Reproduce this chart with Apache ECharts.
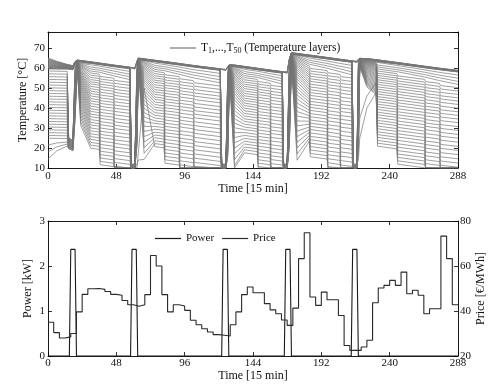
<!DOCTYPE html>
<html lang="en">
<head>
<meta charset="UTF-8">
<title>Tank layers, power and price</title>
<script src="https://cdn.jsdelivr.net/npm/echarts@6/dist/echarts.min.js"></script>
<style>html,body{margin:0;padding:0;background:#fff}</style>
</head>
<body>
<div id="container" style="width:491px;height:385px"></div>
<script type="text/javascript">
// layer temperatures [°C], T1 (top) ... T50 (bottom), read at key times [15 min]
var times0 = [0, 6, 13.5, 14.5, 17.5, 19, 20.5];
var temps0 = [
  [65,64.7,64.4,64.1,63.8,63.5,63.2,62.9,62.6,62.3, 62,61.7,61.4,61.2,61,60.8,60.6,60.4,60.2,60, 59.8,59.5,58.5,57.1,55.7,54.3,52.9,51.5,50.1,48.7, 47.3,45.9,44.5,43.1,41.7,40.3,38.9,37.5,36.1,34.7, 33.3,31.9,30.5,29.1,27.7,26.3,24.9,21.5,18,14.5],
  [63.4,63.2,63,62.8,62.6,62.4,62.2,62,61.8,61.6, 61.4,61.2,61,60.8,60.6,60.4,60.3,60.1,59.9,59.8, 59.6,59.5,58.4,57,55.6,54.2,52.8,51.4,50,48.6, 47.2,45.8,44.4,43,41.6,40.2,38.8,37.4,36,34.6, 33.2,31.8,30.4,29,27.6,26.2,24.8,22.5,20.5,18.5],
  [61.8,61.7,61.6,61.5,61.4,61.2,61.1,61,60.9,60.8, 60.6,60.5,60.4,60.3,60.2,60.1,60,59.9,59.8,59.7, 59.6,59.4,58.3,56.9,55.5,54.1,52.7,51.3,49.9,48.5, 47.1,45.7,44.3,42.9,41.5,40.1,38.7,37.3,35.9,34.5, 33.1,31.7,30.3,28.9,27.5,26.1,24.7,23,22,21],
  [61.7,61.6,61.5,61.4,61.3,61.1,61,60.9,60.8,60.7, 60.5,60.4,60.3,60.2,60.1,60,59.9,59.8,59.7,59.6, 59.5,59.3,25,24.8,24.6,24.4,24.2,24,23.8,23.6, 23.4,23.2,23,22.8,22.6,22.4,22.2,22,21.8,21.6, 21.4,21.2,21,20.8,20.6,20.4,20.2,20,19.8,19.6],
  [61.2,61.1,61,60.9,60.8,60.7,60.6,60.5,60.4,60.3, 60.2,60.1,60,59.9,59.8,59.7,59.6,59.5,59.4,59.3, 59.2,59.1,24,23.8,23.6,23.4,23.2,23,22.8,22.6, 22.4,22.2,22,21.8,21.6,21.4,21.2,21,20.8,20.6, 20.4,20.2,20,19.8,19.6,19.4,19.2,19,18.8,18.6],
  [63.3,63.2,63.1,63,62.9,62.9,62.8,62.7,62.7,62.6, 62.5,62.5,62.4,62.4,62.3,62.3,62.2,62.2,62.1,62.1, 62,62,61,60,59,58,57,56,55,54, 53,52,51,50,49,48,47,46,45,44, 43,42,41,40,39,38,37,36,35,34],
  [64,64,63.9,63.9,63.8,63.8,63.7,63.7,63.6,63.6, 63.5,63.5,63.5,63.4,63.4,63.4,63.3,63.3,63.3,63.2, 63.2,63.2,63.1,63,62.9,62.8,62.7,62.6,62.5,62.4, 62.3,62.2,62.1,62,61.9,61.8,61.7,61.6,61.5,61.4, 61.3,61.2,61.1,61,60.9,60.8,60.7,60.6,60.5,60.4]
];
var times1 = [23, 30, 36, 36.7, 46, 46.7, 57.5, 58.5, 61, 62.5, 63.5];
var temps1 = [
  [63.8,63.7,63.7,63.6,63.6,63.5,63.5,63.4,63.4,63.3, 63.3,63.2,63.2,63.1,62.9,62.6,62.3,62,61.6,61.2, 60.8,60.4,59.9,59.4,58.9,58.3,57.7,57.1,56.4,55.7, 55,54.2,53.4,52.5,51.6,50.6,49.6,48.5,47.4,46.2, 45,43.7,42.4,41,39.5,38,36.4,34.7,33,31.2],
  [63.1,63.1,63,63,62.9,62.9,62.8,62.8,62.7,62.7,62.6,62.6,62.5,62.5,62.4,62.3, 61.6,60.5,59.5,58.5,57.5,56.4,55.3,54.2,53.1,52, 50.8,49.6,48.4,47.2,46,44.7,43.5,42.2,40.9,39.6, 38.3,36.9,35.6,34.2,32.8,31.5,30,28.6,27.1,25.7, 24.3,22.8,21.4,19.9],
  [62.5,62.5,62.4,62.4,62.3,62.3,62.2,62.2,62.1,62.1,62,62,61.9,61.9,61.8,61.7, 61,59.9,58.9,57.9,56.9,55.8,54.7,53.6,52.5,51.4, 50.2,49,47.8,46.6,45.4,44.1,42.9,41.6,40.3,39, 37.7,36.3,35,33.6,32.2,30.9,29.4,28,26.5,25.1, 23.7,22.2,20.8,19.3],
  [62.4,62.4,62.3,62.3,62.2,62.2,62.1,62.1,62,62,61.9,61.9,61.8,61.8,61.7,61.6, 60.6,59.4,58.2,57,55.8,54.5,53.2,51.9,50.6,49.3, 47.9,46.5,45.1,43.7,42.3,40.8,39.3,37.8,36.3,34.8, 33.2,31.6,30,28.4,26.8,25.2,23.5,21.8,20.1,18.4, 16.7,15,13.3,11.6],
  [61.5,61.5,61.4,61.4,61.3,61.3,61.2,61.2,61.1,61.1,61,61,60.9,60.9,60.8,60.7, 59.7,58.5,57.3,56.1,54.9,53.6,52.3,51,49.7,48.4, 47,45.6,44.2,42.8,41.4,39.9,38.4,36.9,35.4,33.9, 32.3,30.7,29.1,27.5,25.9,24.3,22.6,20.9,19.2,17.5, 15.8,14.1,12.4,10.7],
  [61.4,61.4,61.3,61.3,61.2,61.2,61.1,61.1,61,61,60.9,60.9,60.8,60.8,60.7,60.6, 59.3,57.9,56.6,55.2,53.8,52.3,50.8,49.3,47.8,46.3, 44.7,43.1,41.5,39.9,38.3,36.6,34.8,33.1,31.4,29.7, 27.8,26,24.1,22.3,20.5,18.6,16.7,14.7,12.8,10.8, 10,10,10,10],
  [60.4,60.4,60.3,60.3,60.2,60.2,60.1,60.1,60,60,59.9,59.9,59.8,59.8,59.7,59.6, 58.3,56.9,55.6,54.2,52.8,51.3,49.8,48.3,46.8,45.3, 43.7,42.1,40.5,38.9,37.3,35.6,33.8,32.1,30.4,28.7, 26.8,25,23.1,21.3,19.5,17.6,15.7,13.7,11.8,10, 10,10,10,10],
  [60.3,60.2,60.1,60,59.8,59.7,12,11.8,11.6,11.4, 11.2,11,10.8,10.6,10.4,10.2,10,10,10,10, 10,10,10,10,10,10,10,10,10,10, 10,10,10,10,10,10,10,10,10,10, 10,10,10,10,10,10,10,10,10,10],
  [60.1,60,59.9,59.8,59.6,59.5,12,11.8,11.6,11.4, 11.2,11,10.8,10.6,10.4,10.2,10,10,10,10, 10,10,10,10,10,10,10,10,10,10, 10,10,10,10,10,10,10,10,10,10, 10,10,10,10,10,10,10,10,10,10],
  [63.5,63.4,63.3,63.2,63.1,63,62,61,60,59, 58,57,56,55,54,53,52,51,50,49, 48,47,46,45,44,43,42,41,40,39, 38,37,36,35,34,33,32,31,30,29, 28,27,26,25,24,23,22,21,12,10],
  [65,65,64.9,64.9,64.8,64.8,64.7,64.7,64.6,64.6, 64.5,64.5,64.4,64.4,64.3,64.3,64.2,64.2,64.1,64.1, 64,64,63.9,63.9,63.8,63.8,63.7,63.7,63.6,63.6, 63.5,63.5,63.4,63.3,63.2,63.1,63,62.9,62.8,62.7, 62.6,62.4,62.2,62,61.7,61.4,61,60.5,14,10]
];
var times2 = [67.5, 75, 81.5, 82.2, 92, 92.7, 102, 102.8, 121, 122, 125, 126.3, 127.5];
var temps2 = [
  [64.6,64.6,64.5,64.5,64.4,64.4,64.3,64.3,64.2,64.2,64.1,64.1,64,64,63.9,63.8, 63.8,63.4,62.9,62.4,61.8,61.2,60.5,59.8,59,58.2, 57.3,56.3,55.3,54.2,53,51.7,50.3,48.8,47.2,45.5, 43.7,41.8,39.8,37.7,35.5,33.2,30.8,28.3,25.7,23, 20.2,17.3,14.3,50],
  [63.9,63.9,63.8,63.8,63.7,63.7,63.6,63.6,63.5,63.5,63.4,63.4,63.3,63.3,63.2,63.1, 62.4,61.3,60.3,59.3,58.3,57.2,56.1,55,53.9,52.8, 51.6,50.4,49.2,48,46.8,45.5,44.3,43,41.7,40.4, 39.1,37.7,36.4,35,33.6,32.3,30.8,29.4,27.9,26.5, 25.1,23.6,22.2,20.7],
  [63.3,63.3,63.2,63.2,63.1,63.1,63,63,62.9,62.9,62.8,62.8,62.7,62.7,62.6,62.5, 61.8,60.7,59.7,58.7,57.7,56.6,55.5,54.4,53.3,52.2, 51,49.8,48.6,47.4,46.2,44.9,43.7,42.4,41.1,39.8, 38.5,37.1,35.8,34.4,33,31.7,30.2,28.8,27.3,25.9, 24.5,23,21.6,20.1],
  [63.2,63.2,63.1,63.1,63,63,62.9,62.9,62.8,62.8,62.7,62.7,62.6,62.6,62.5,62.4, 61.4,60.2,59,57.8,56.6,55.3,54,52.7,51.4,50.1, 48.7,47.3,45.9,44.5,43.1,41.6,40.1,38.6,37.1,35.6, 34,32.4,30.8,29.2,27.6,26,24.3,22.6,20.9,19.2, 17.5,15.8,14.1,12.4],
  [62.3,62.3,62.2,62.2,62.1,62.1,62,62,61.9,61.9,61.8,61.8,61.7,61.7,61.6,61.5, 60.5,59.3,58.1,56.9,55.7,54.4,53.1,51.8,50.5,49.2, 47.8,46.4,45,43.6,42.2,40.7,39.2,37.7,36.2,34.7, 33.1,31.5,29.9,28.3,26.7,25.1,23.4,21.7,20,18.3, 16.6,14.9,13.2,11.5],
  [62.2,62.2,62.1,62.1,62,62,61.9,61.9,61.8,61.8,61.7,61.7,61.6,61.6,61.5,61.4, 60.1,58.7,57.4,56,54.6,53.1,51.6,50.1,48.6,47.1, 45.5,43.9,42.3,40.7,39.1,37.4,35.6,33.9,32.2,30.5, 28.6,26.8,24.9,23.1,21.3,19.4,17.5,15.5,13.6,11.6, 10,10,10,10],
  [61.3,61.3,61.2,61.2,61.1,61.1,61,61,60.9,60.9,60.8,60.8,60.7,60.7,60.6,60.5, 59.2,57.8,56.5,55.1,53.7,52.2,50.7,49.2,47.7,46.2, 44.6,43,41.4,39.8,38.2,36.5,34.7,33,31.3,29.6, 27.7,25.9,24,22.2,20.4,18.5,16.6,14.6,12.7,10.7, 10,10,10,10],
  [61.2,61.2,61.1,61.1,61,61,60.9,60.9,60.8,60.8,60.7,60.7,60.6,60.6,60.5,60.4, 58.9,57.3,55.7,54.2,52.6,50.9,49.2,47.5,45.9,44.2, 42.3,40.5,38.7,36.9,35.1,33.1,31.2,29.2,27.3,25.3, 23.2,21.2,19.1,17,14.9,12.8,10.6,10,10,10, 10,10,10,10],
  [59.6,59.6,59.5,59.5,59.4,59.4,59.3,59.3,59.2,59.2,59.1,59.1,59,59,58.9,58.8, 57.3,55.7,54.1,52.6,51,49.3,47.6,45.9,44.3,42.6, 40.7,38.9,37.1,35.3,33.5,31.5,29.6,27.6,25.7,23.7, 21.6,19.6,17.5,15.4,13.3,11.2,10,10,10,10, 10,10,10,10],
  [59.5,59.4,59.3,59.2,59.1,59,12,11.8,11.6,11.4, 11.2,11,10.8,10.6,10.4,10.2,10,10,10,10, 10,10,10,10,10,10,10,10,10,10, 10,10,10,10,10,10,10,10,10,10, 10,10,10,10,10,10,10,10,10,10],
  [59.3,59.2,59.1,59,58.9,58.8,12,11.8,11.6,11.4, 11.2,11,10.8,10.6,10.4,10.2,10,10,10,10, 10,10,10,10,10,10,10,10,10,10, 10,10,10,10,10,10,10,10,10,10, 10,10,10,10,10,10,10,10,10,10],
  [60.8,60.7,60.6,60.5,60.4,60.3,59,58,57,56, 55,54,53,52,51,50,49,48,47,46, 45,44,43,42,41,40,39,38,37,36, 35,34,33,32,31,30,29,28,27,26, 25,24,23,22,21,20,19,18,17,16],
  [61.8,61.8,61.7,61.7,61.6,61.6,61.5,61.5,61.4,61.4, 61.3,61.3,61.2,61.2,61.1,61.1,61,61,60.9,60.9, 60.8,60.8,60.7,60.7,60.6,60.6,60.5,60.5,60.4,60.4, 60.3,60.2,60.1,60,59.9,59.8,59.7,59.6,59.5,59.4, 59.3,59.2,59,58.8,58.6,58.4,58.2,58,57.8,57.5]
];
var times3 = [131, 138, 147, 147.7, 156, 156.7, 164.5, 165.5, 168, 169.5, 171];
var temps3 = [
  [61.5,61.5,61.4,61.4,61.3,61.3,61.2,61.2,61.1,61.1,61,61,60.9,60.9,60.8,60.7, 60.7,60.3,59.8,59.3,58.7,58.1,57.4,56.7,55.9,55.1, 54.2,53.2,52.2,51.1,49.9,48.6,47.2,45.7,44.1,42.4, 40.6,38.7,36.7,34.6,32.4,30.1,27.7,25.2,22.6,19.9, 17.1,14.2,11.2,10],
  [60.8,60.8,60.7,60.7,60.6,60.6,60.5,60.5,60.4,60.4,60.3,60.3,60.2,60.2,60.1,60, 59.3,58.2,57.2,56.2,55.2,54.1,53,51.9,50.8,49.7, 48.5,47.3,46.1,44.9,43.7,42.4,41.2,39.9,38.6,37.3, 36,34.6,33.3,31.9,30.5,29.2,27.7,26.3,24.8,23.4, 22,20.5,19.1,17.6],
  [59.9,59.9,59.8,59.8,59.7,59.7,59.6,59.6,59.5,59.5,59.4,59.4,59.3,59.3,59.2,59.1, 58.4,57.3,56.3,55.3,54.3,53.2,52.1,51,49.9,48.8, 47.6,46.4,45.2,44,42.8,41.5,40.3,39,37.7,36.4, 35.1,33.7,32.4,31,29.6,28.3,26.8,25.4,23.9,22.5, 21.1,19.6,18.2,16.7],
  [59.8,59.8,59.7,59.7,59.6,59.6,59.5,59.5,59.4,59.4,59.3,59.3,59.2,59.2,59.1,59, 58,56.8,55.6,54.4,53.2,51.9,50.6,49.3,48,46.7, 45.3,43.9,42.5,41.1,39.7,38.2,36.7,35.2,33.7,32.2, 30.6,29,27.4,25.8,24.2,22.6,20.9,19.2,17.5,15.8, 14.1,12.4,10.7,10],
  [59,59,58.9,58.9,58.8,58.8,58.7,58.7,58.6,58.6,58.5,58.5,58.4,58.4,58.3,58.2, 57.2,56,54.8,53.6,52.4,51.1,49.8,48.5,47.2,45.9, 44.5,43.1,41.7,40.3,38.9,37.4,35.9,34.4,32.9,31.4, 29.8,28.2,26.6,25,23.4,21.8,20.1,18.4,16.7,15, 13.3,11.6,10,10],
  [58.9,58.9,58.8,58.8,58.7,58.7,58.6,58.6,58.5,58.5,58.4,58.4,58.3,58.3,58.2,58.1, 56.8,55.4,54.1,52.7,51.3,49.8,48.3,46.8,45.3,43.8, 42.2,40.6,39,37.4,35.8,34.1,32.3,30.6,28.9,27.2, 25.3,23.5,21.6,19.8,18,16.1,14.2,12.2,10.3,10, 10,10,10,10],
  [58.2,58.2,58.1,58.1,58,58,57.9,57.9,57.8,57.8,57.7,57.7,57.6,57.6,57.5,57.4, 56.1,54.7,53.4,52,50.6,49.1,47.6,46.1,44.6,43.1, 41.5,39.9,38.3,36.7,35.1,33.4,31.6,29.9,28.2,26.5, 24.6,22.8,20.9,19.1,17.3,15.4,13.5,11.5,10,10, 10,10,10,10],
  [58.1,58,57.9,57.8,57.6,57.5,12,11.8,11.6,11.4, 11.2,11,10.8,10.6,10.4,10.2,10,10,10,10, 10,10,10,10,10,10,10,10,10,10, 10,10,10,10,10,10,10,10,10,10, 10,10,10,10,10,10,10,10,10,10],
  [58,57.9,57.8,57.7,57.5,57.4,12,11.8,11.6,11.4, 11.2,11,10.8,10.6,10.4,10.2,10,10,10,10, 10,10,10,10,10,10,10,10,10,10, 10,10,10,10,10,10,10,10,10,10, 10,10,10,10,10,10,10,10,10,10],
  [64.5,64.4,64.3,64.2,64.1,64,63,62,61,60, 59,58,57,56,55,54,53,52,51,50, 49,48,47,46,45,44,43,42,41,40, 39,38,37,36,35,34,33,32,31,30, 29,28,27,26,25,24,23,22,21,20],
  [67.7,67.7,67.6,67.6,67.5,67.5,67.4,67.4,67.3,67.3, 67.2,67.2,67.1,67.1,67,67,66.9,66.9,66.8,66.8, 66.7,66.7,66.6,66.6,66.5,66.5,66.4,66.4,66.3,66.3, 66.2,66.1,66,65.9,65.8,65.7,65.6,65.5,65.4,65.3, 65.2,65,64.8,64.6,64.4,64.2,64,63.7,63.4,63]
];
var times4 = [175, 183.5, 184.3, 196, 196.7, 205, 205.7, 213.5, 214.5, 217, 218, 219];
var temps4 = [
  [67.3,67.3,67.2,67.2,67.1,67.1,67,67,66.9,66.9,66.8,66.8,66.7,66.7,66.6,66.5, 66.5,66.1,65.6,65.1,64.5,63.9,63.2,62.5,61.7,60.9, 60,59,58,56.9,55.7,54.4,53,51.5,49.9,48.2, 46.4,44.5,42.5,40.4,38.2,35.9,33.5,31,28.4,25.7, 22.9,20,17,13.9],
  [66.5,66.5,66.4,66.4,66.3,66.3,66.2,66.2,66.1,66.1,66,66,65.9,65.9,65.8,65.7, 65,63.9,62.9,61.9,60.9,59.8,58.7,57.6,56.5,55.4, 54.2,53,51.8,50.6,49.4,48.1,46.9,45.6,44.3,43, 41.7,40.3,39,37.6,36.2,34.9,33.4,32,30.5,29.1, 27.7,26.2,24.8,23.3],
  [66.4,66.4,66.3,66.3,66.2,66.2,66.1,66.1,66,66,65.9,65.9,65.8,65.8,65.7,65.6, 64.6,63.4,62.2,61,59.8,58.5,57.2,55.9,54.6,53.3, 51.9,50.5,49.1,47.7,46.3,44.8,43.3,41.8,40.3,38.8, 37.2,35.6,34,32.4,30.8,29.2,27.5,25.8,24.1,22.4, 20.7,19,17.3,15.6],
  [65.3,65.3,65.2,65.2,65.1,65.1,65,65,64.9,64.9,64.8,64.8,64.7,64.7,64.6,64.5, 63.5,62.3,61.1,59.9,58.7,57.4,56.1,54.8,53.5,52.2, 50.8,49.4,48,46.6,45.2,43.7,42.2,40.7,39.2,37.7, 36.1,34.5,32.9,31.3,29.7,28.1,26.4,24.7,23,21.3, 19.6,17.9,16.2,14.5],
  [65.2,65.2,65.1,65.1,65,65,64.9,64.9,64.8,64.8,64.7,64.7,64.6,64.6,64.5,64.4, 63.1,61.7,60.4,59,57.6,56.1,54.6,53.1,51.6,50.1, 48.5,46.9,45.3,43.7,42.1,40.4,38.6,36.9,35.2,33.5, 31.6,29.8,27.9,26.1,24.3,22.4,20.5,18.5,16.6,14.6, 12.6,10.7,10,10],
  [64.4,64.4,64.3,64.3,64.2,64.2,64.1,64.1,64,64,63.9,63.9,63.8,63.8,63.7,63.6, 62.3,60.9,59.6,58.2,56.8,55.3,53.8,52.3,50.8,49.3, 47.7,46.1,44.5,42.9,41.3,39.6,37.8,36.1,34.4,32.7, 30.8,29,27.1,25.3,23.5,21.6,19.7,17.7,15.8,13.8, 11.8,10,10,10],
  [64.3,64.3,64.2,64.2,64.1,64.1,64,64,63.9,63.9,63.8,63.8,63.7,63.7,63.6,63.5, 62,60.4,58.8,57.3,55.7,54,52.3,50.6,49,47.3, 45.4,43.6,41.8,40,38.2,36.2,34.3,32.3,30.4,28.4, 26.3,24.3,22.2,20.1,18,15.9,13.7,11.5,10,10, 10,10,10,10],
  [63.6,63.6,63.5,63.5,63.4,63.4,63.3,63.3,63.2,63.2,63.1,63.1,63,63,62.9,62.8, 61.3,59.7,58.1,56.6,55,53.3,51.6,49.9,48.3,46.6, 44.7,42.9,41.1,39.3,37.5,35.5,33.6,31.6,29.7,27.7, 25.6,23.6,21.5,19.4,17.3,15.2,13,10.8,10,10, 10,10,10,10],
  [63.5,63.4,63.2,63.1,63,62.8,12,11.8,11.6,11.4, 11.2,11,10.8,10.6,10.4,10.2,10,10,10,10, 10,10,10,10,10,10,10,10,10,10, 10,10,10,10,10,10,10,10,10,10, 10,10,10,10,10,10,10,10,10,10],
  [63.4,63.3,63.1,63,62.9,62.7,12,11.8,11.6,11.4, 11.2,11,10.8,10.6,10.4,10.2,10,10,10,10, 10,10,10,10,10,10,10,10,10,10, 10,10,10,10,10,10,10,10,10,10, 10,10,10,10,10,10,10,10,10,12],
  [64.5,64.4,64.3,64.2,64.1,64,63,62,61,60, 59,58,57,56,55,54,53,52,51,50, 49,48,47,46,45,44,43,42,41,40, 39,38,37,36,35,34,33,32,31,30, 29,28,27,26,25,24,23,22,18,14],
  [65.2,65.2,65.1,65.1,65,65,64.9,64.9,64.8,64.8, 64.7,64.7,64.6,64.6,64.5,64.5,64.4,64.4,64.3,64.3, 64.2,64.2,64.1,64.1,64,64,63.9,63.9,63.8,63.8, 63.7,63.6,63.5,63.4,63.3,63.2,63.1,63,62.9,62.8, 62.6,62.4,62.2,62,61.7,61.4,61,60.5,35,25]
];
var times5 = [224, 230.5, 231.5, 245, 245.7, 264.5, 265.3, 275, 275.7, 288];
var temps5 = [
  [64.7,64.7,64.6,64.6,64.6,64.5,64.5,64.5,64.4,64.4, 64.4,64.3,64.3,64.2,64.1,64,63.9,63.7,63.5,63.3, 63.1,62.9,62.7,62.4,62.1,61.8,61.5,61.2,60.8,60.4, 60,59.6,59.2,58.7,58.2,57.7,57.2,56.6,56,55.4, 54.8,54.2,53.6,53,52.4,51.8,51.2,50.5,46,40],
  [64.2,64.2,64.1,64.1,64,64,63.9,63.9,63.8,63.8, 63.7,63.7,63.6,63.5,63.3,63.1,62.9,62.6,62.3,62, 61.7,61.3,60.9,60.5,60.1,59.6,59.1,58.6,58.1,57.5, 56.9,56.3,55.7,55.1,54.5,53.9,53.3,52.7,52.1,51.5, 50.9,50.3,49.7,49.1,48.5,47.9,47.3,46.7,52.8,47.8],
  [64.1,64.1,64,64,63.9,63.9,63.8,63.8,63.7,63.7,63.6,63.6,63.5,63.5,63.4,63.3, 62.6,61.5,60.5,59.5,58.5,57.4,56.3,55.2,54.1,53, 51.8,50.6,49.4,48.2,47,45.7,44.5,43.2,41.9,40.6, 39.3,37.9,36.6,35.2,33.8,32.5,31,29.6,28.1,26.7, 25.3,23.8,22.4,20.9],
  [62.8,62.8,62.7,62.7,62.6,62.6,62.5,62.5,62.4,62.4,62.3,62.3,62.2,62.2,62.1,62, 61.3,60.2,59.2,58.2,57.2,56.1,55,53.9,52.8,51.7, 50.5,49.3,48.1,46.9,45.7,44.4,43.2,41.9,40.6,39.3, 38,36.6,35.3,33.9,32.5,31.2,29.7,28.3,26.8,25.4, 24,22.5,21.1,19.6],
  [62.7,62.7,62.6,62.6,62.5,62.5,62.4,62.4,62.3,62.3,62.2,62.2,62.1,62.1,62,61.9, 60.9,59.7,58.5,57.3,56.1,54.8,53.5,52.2,50.9,49.6, 48.2,46.8,45.4,44,42.6,41.1,39.6,38.1,36.6,35.1, 33.5,31.9,30.3,28.7,27.1,25.5,23.8,22.1,20.4,18.7, 17,15.3,13.6,11.9],
  [60.9,60.9,60.8,60.8,60.7,60.7,60.6,60.6,60.5,60.5,60.4,60.4,60.3,60.3,60.2,60.1, 59.1,57.9,56.7,55.5,54.3,53,51.7,50.4,49.1,47.8, 46.4,45,43.6,42.2,40.8,39.3,37.8,36.3,34.8,33.3, 31.7,30.1,28.5,26.9,25.3,23.7,22,20.3,18.6,16.9, 15.2,13.5,11.8,10.1],
  [60.8,60.8,60.7,60.7,60.6,60.6,60.5,60.5,60.4,60.4,60.3,60.3,60.2,60.2,60.1,60, 58.7,57.3,56,54.6,53.2,51.7,50.2,48.7,47.2,45.7, 44.1,42.5,40.9,39.3,37.7,36,34.2,32.5,30.8,29.1, 27.2,25.4,23.5,21.7,19.9,18,16.1,14.1,12.2,10.2, 10,10,10,10],
  [59.9,59.9,59.8,59.8,59.7,59.7,59.6,59.6,59.5,59.5,59.4,59.4,59.3,59.3,59.2,59.1, 57.8,56.4,55.1,53.7,52.3,50.8,49.3,47.8,46.3,44.8, 43.2,41.6,40,38.4,36.8,35.1,33.3,31.6,29.9,28.2, 26.3,24.5,22.6,20.8,19,17.1,15.2,13.2,11.3,10, 10,10,10,10],
  [59.8,59.8,59.7,59.7,59.6,59.6,59.5,59.5,59.4,59.4,59.3,59.3,59.2,59.2,59.1,59, 57.5,55.9,54.3,52.8,51.2,49.5,47.8,46.1,44.5,42.8, 40.9,39.1,37.3,35.5,33.7,31.7,29.8,27.8,25.9,23.9, 21.8,19.8,17.7,15.6,13.5,11.4,10,10,10,10, 10,10,10,10],
  [58.8,58.8,58.7,58.7,58.6,58.6,58.5,58.5,58.4,58.4,58.3,58.3,58.2,58.2,58.1,58, 56.5,54.9,53.3,51.8,50.2,48.5,46.8,45.1,43.5,41.8, 39.9,38.1,36.3,34.5,32.7,30.7,28.8,26.8,24.9,22.9, 20.8,18.8,16.7,14.6,12.5,10.4,10,10,10,10, 10,10,10,10]
];

// heater power [kW]: corners of the on/off pulses
var powerPts = [[0,0],[15,0],[16,2.37],[19,2.37],[20,0],[58,0],[59,2.37],[62,2.37],[63,0],
  [122,0],[123,2.37],[126,2.37],[127,0],[166,0],[167,2.37],[170,2.37],[171,0],
  [213,0],[214,2.37],[217,2.37],[218,0],[288,0]];

// electricity price [€/MWh], one value per hour (4 steps of 15 min)
var priceHourly = [35,30.4,28,28.5,30,39.6,47.4,49.9,50,49.6,
  48.7,47.4,47,44.7,42.8,42.1,42.8,47.3,64.7,60,
  47.3,39.6,42.8,42.2,40.3,35.9,33.9,32.1,30.7,29.5,
  29.2,28.9,33.9,39.6,47.3,50.7,48.1,48.1,43.3,40.5,
  38.8,36,33.6,41.3,63.3,74.8,46.2,42.5,48.4,45,
  45,38,24.7,22.5,22.5,24,27,43.7,50.2,51.4,
  53.6,51.4,57.3,47.7,49.2,47,38.8,41,41,73.3,
  63.3,42.8];

var dom = document.getElementById('container');
var myChart = echarts.init(dom, null, {renderer: 'canvas'});
var font = 'Liberation Serif';
var ink = '#000';

var layerTimes = times0.concat(times1, times2, times3, times4, times5);
var layerTemps = temps0.concat(temps1, temps2, temps3, temps4, temps5);

var series = [];
for (var i = 0; i < 50; i++) {
  var pts = [];
  for (var j = 0; j < layerTimes.length; j++) {
    pts.push([layerTimes[j], layerTemps[j][i]]);
  }
  series.push({
    name: 'T', type: 'line', xAxisIndex: 0, yAxisIndex: 0, data: pts,
    symbol: 'none', silent: true, color: '#777',
    lineStyle: {color: '#777', width: 0.7}
  });
}

var pricePts = priceHourly.map(function (p, h) { return [h * 4, p]; });
pricePts.push([288, priceHourly[priceHourly.length - 1]]);

series.push({
  name: 'Power', type: 'line', xAxisIndex: 2, yAxisIndex: 2, data: powerPts,
  symbol: 'none', silent: true, color: '#1a1a1a', lineStyle: {color: '#1a1a1a', width: 1.1}
});
series.push({
  name: 'Price', type: 'line', xAxisIndex: 2, yAxisIndex: 3, data: pricePts, step: 'end',
  symbol: 'none', silent: true, color: '#2a2a2a', lineStyle: {color: '#2a2a2a', width: 1.1}
});

var axisLine = {show: true, onZero: false, lineStyle: {color: ink, width: 0.9}};
var axisTick = {show: true, inside: true, length: 4, lineStyle: {color: ink, width: 0.8}};
var labelStyle = {color: '#111', fontFamily: font, fontSize: 11};
var nameStyle = {color: '#111', fontFamily: font, fontSize: 12};

function timeAxis(grid, position, labelled, margin, gap) {
  var ax = {
    gridIndex: grid, type: 'value', position: position, min: 0, max: 288, interval: 48,
    axisLine: axisLine, axisTick: axisTick, splitLine: {show: false},
    axisLabel: labelled ? Object.assign({margin: margin}, labelStyle) : {show: false}
  };
  if (labelled) {
    ax.name = 'Time [15 min]';
    ax.nameLocation = 'middle';
    ax.nameGap = gap;
    ax.nameMoveOverlap = false;
    ax.nameTextStyle = nameStyle;
  }
  return ax;
}

option = {
  animation: false,
  backgroundColor: '#fff',
  grid: [
    {left: 48, top: 32, width: 410, height: 136, outerBoundsMode: 'none'},
    {left: 48, top: 221, width: 410, height: 135, outerBoundsMode: 'none'}
  ],
  xAxis: [
    timeAxis(0, 'bottom', true, 3, 15),
    timeAxis(0, 'top', false),
    timeAxis(1, 'bottom', true, 2, 14),
    timeAxis(1, 'top', false)
  ],
  yAxis: [
    {
      gridIndex: 0, type: 'value', position: 'left', min: 10, max: 78, interval: 10,
      axisLine: axisLine, axisTick: axisTick, splitLine: {show: false},
      axisLabel: Object.assign({margin: 3, showMaxLabel: false}, labelStyle),
      name: 'Temperature [°C]', nameLocation: 'middle', nameGap: 19, nameRotate: 90,
      nameMoveOverlap: false, nameTextStyle: nameStyle
    },
    {
      gridIndex: 0, type: 'value', position: 'right', min: 10, max: 78, interval: 10,
      axisLine: axisLine, axisTick: axisTick, splitLine: {show: false}, axisLabel: {show: false}
    },
    {
      gridIndex: 1, type: 'value', position: 'left', min: 0, max: 3, interval: 1,
      axisLine: axisLine, axisTick: axisTick, splitLine: {show: false},
      axisLabel: Object.assign({margin: 3}, labelStyle),
      name: 'Power [kW]', nameLocation: 'middle', nameGap: 14, nameRotate: 90,
      nameMoveOverlap: false, nameTextStyle: nameStyle
    },
    {
      gridIndex: 1, type: 'value', position: 'right', min: 20, max: 80, interval: 20,
      axisLine: axisLine, axisTick: axisTick, splitLine: {show: false},
      axisLabel: Object.assign({margin: 2}, labelStyle),
      name: 'Price [€/MWh]', nameLocation: 'middle', nameGap: 17, nameRotate: 90,
      nameMoveOverlap: false, nameTextStyle: nameStyle
    }
  ],
  legend: [
    {
      data: ['T'], left: 170, top: 42, padding: 0, itemWidth: 26, itemHeight: 1.2,
      icon: 'rect', selectedMode: false,
      formatter: function () {
        return '{m|T}{s|1}{m|,...,T}{s|50}{m| (Temperature layers)}';
      },
      textStyle: {
        fontFamily: font, fontSize: 11.5, color: '#111',
        rich: {
          m: {fontFamily: font, fontSize: 11.5, color: '#111'},
          s: {fontFamily: font, fontSize: 8, color: '#111', padding: [6, 0, 0, 0]}
        }
      }
    },
    {
      data: ['Power', 'Price'], left: 155, top: 233, padding: 0, itemWidth: 26, itemHeight: 1.2,
      icon: 'rect', itemGap: 8, selectedMode: false,
      textStyle: {fontFamily: font, fontSize: 11, color: '#111'}
    }
  ],
  series: series
};

if (option && typeof option === 'object') {
  myChart.setOption(option, true);
}
</script>
</body>
</html>
